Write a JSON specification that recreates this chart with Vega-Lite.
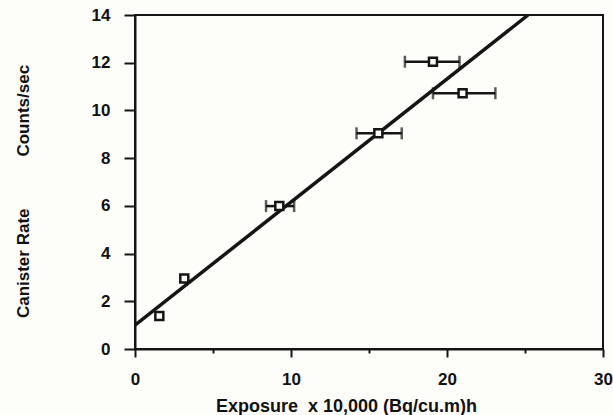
{
  "$schema": "https://vega.github.io/schema/vega-lite/v6.json",
  "width": 468,
  "height": 334,
  "autosize": "none",
  "padding": {"left": 135, "top": 15, "right": 10, "bottom": 66},
  "background": "#fdfdfa",
  "config": {
    "view": {"stroke": "#151515", "strokeWidth": 2},
    "font": "Liberation Sans"
  },
  "datasets": {
    "pts": [
      {"exposure": 1.56, "rate": 1.38},
      {"exposure": 3.16, "rate": 2.96},
      {"exposure": 9.25, "rate": 5.99},
      {"exposure": 15.6, "rate": 9.04},
      {"exposure": 19.1, "rate": 12.04},
      {"exposure": 21.0, "rate": 10.72}
    ],
    "err": [
      {"rate": 5.99, "lo": 8.4, "hi": 10.2},
      {"rate": 9.04, "lo": 14.2, "hi": 17.1},
      {"rate": 12.04, "lo": 17.3, "hi": 20.8},
      {"rate": 10.72, "lo": 19.1, "hi": 23.1}
    ],
    "fit": [
      {"exposure": 0, "rate": 1.0},
      {"exposure": 25.2, "rate": 14}
    ]
  },
  "layer": [
    {
      "data": {"name": "fit"},
      "mark": {"type": "line", "color": "#151515", "strokeWidth": 3.5, "clip": true},
      "encoding": {
        "x": {
          "field": "exposure", "type": "quantitative",
          "scale": {"domain": [0, 30], "nice": false},
          "axis": {
            "title": "Exposure\u00a0\u00a0x 10,000 (Bq/cu.m)h",
            "values": [0, 5, 10, 15, 20, 25, 30],
            "labelExpr": "datum.value % 10 === 0 ? datum.label : ''",
            "grid": false,
            "domainColor": "#151515", "domainWidth": 2,
            "tickColor": "#151515", "tickWidth": 2,
            "tickSize": {"condition": {"test": "datum.value % 10 === 0", "value": 8}, "value": 4},
            "labelFont": "Liberation Sans", "labelFontWeight": "bold", "labelFontSize": 17, "labelColor": "#111111",
            "labelPadding": 14, "labelFlush": false,
            "titleFont": "Liberation Sans", "titleFontWeight": "bold", "titleFontSize": 18, "titleColor": "#111111",
            "titleX": 211, "titleY": 62, "titleBaseline": "alphabetic", "titleAlign": "center"
          }
        },
        "y": {
          "field": "rate", "type": "quantitative",
          "scale": {"domain": [0, 14], "nice": false},
          "axis": {
            "title": "Canister Rate\u00a0\u00a0\u00a0\u00a0\u00a0\u00a0\u00a0\u00a0\u00a0\u00a0\u00a0Counts/sec",
            "values": [0, 1, 2, 3, 4, 5, 6, 7, 8, 9, 10, 11, 12, 13, 14],
            "labelExpr": "datum.value % 2 === 0 ? datum.label : ''",
            "grid": false,
            "domainColor": "#151515", "domainWidth": 2,
            "tickColor": "#151515", "tickWidth": 2,
            "tickSize": {"condition": {"test": "datum.value % 2 === 0", "value": 11}, "value": 5},
            "labelFont": "Liberation Sans", "labelFontWeight": "bold", "labelFontSize": 17, "labelColor": "#111111",
            "labelPadding": 14, "labelFlush": false,
            "titleFont": "Liberation Sans", "titleFontWeight": "bold", "titleFontSize": 17, "titleColor": "#111111",
            "titleAngle": 270, "titleX": -112, "titleY": 176, "titleBaseline": "middle", "titleAlign": "center"
          }
        }
      }
    },
    {
      "data": {"name": "err"},
      "mark": {"type": "rule", "color": "#151515", "strokeWidth": 2.5},
      "encoding": {
        "x": {"field": "lo", "type": "quantitative"},
        "x2": {"field": "hi"},
        "y": {"field": "rate", "type": "quantitative"}
      }
    },
    {
      "data": {"name": "err"},
      "mark": {"type": "tick", "color": "#151515", "orient": "vertical", "size": 12, "thickness": 2.5},
      "encoding": {
        "x": {"field": "lo", "type": "quantitative"},
        "y": {"field": "rate", "type": "quantitative"}
      }
    },
    {
      "data": {"name": "err"},
      "mark": {"type": "tick", "color": "#151515", "orient": "vertical", "size": 12, "thickness": 2.5},
      "encoding": {
        "x": {"field": "hi", "type": "quantitative"},
        "y": {"field": "rate", "type": "quantitative"}
      }
    },
    {
      "data": {"name": "pts"},
      "mark": {"type": "point", "shape": "square", "size": 64, "filled": true, "fill": "#fdfdfa", "stroke": "#151515", "strokeWidth": 2.5, "opacity": 1},
      "encoding": {
        "x": {"field": "exposure", "type": "quantitative"},
        "y": {"field": "rate", "type": "quantitative"}
      }
    }
  ]
}
